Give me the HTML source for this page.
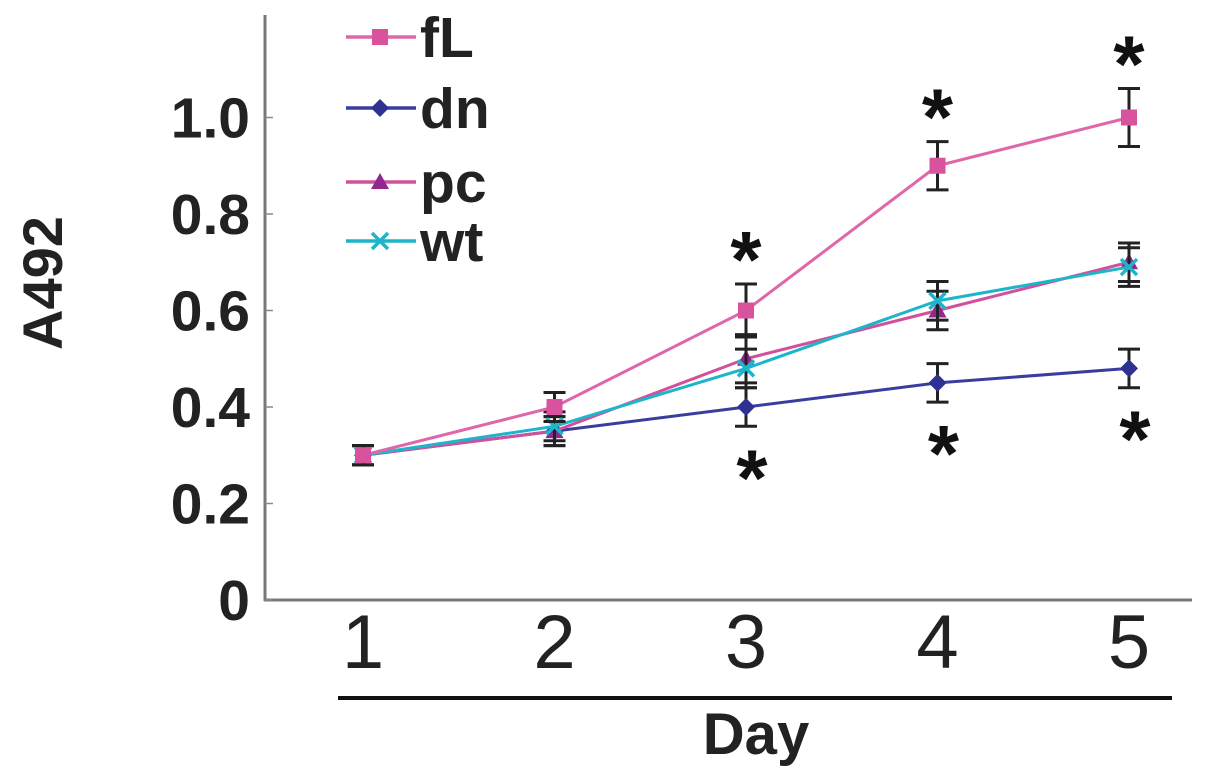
<!DOCTYPE html>
<html><head><meta charset="utf-8"><style>
html,body{margin:0;padding:0;background:#fff;}
svg{display:block;font-family:"Liberation Sans",Arial,sans-serif;}
</style></head><body>
<svg id="chart" width="1205" height="777" viewBox="0 0 1205 777">
<g id="axes"></g><g id="series"></g><g id="legend"></g>
</svg>
<script>
const days = [1, 2, 3, 4, 5];
const yTicks = [0, 0.2, 0.4, 0.6, 0.8, 1.0];
const yTickLabels = ["0", "0.2", "0.4", "0.6", "0.8", "1.0"];
const fL = [0.30, 0.40, 0.60, 0.90, 1.00];
const fLErr = [0.02, 0.03, 0.055, 0.05, 0.06];
const dn = [0.30, 0.35, 0.40, 0.45, 0.48];
const dnErr = [0.02, 0.03, 0.04, 0.04, 0.04];
const pc = [0.30, 0.35, 0.50, 0.60, 0.70];
const pcErr = [0.02, 0.03, 0.05, 0.04, 0.04];
const wt = [0.30, 0.36, 0.48, 0.62, 0.69];
const wtErr = [0.02, 0.03, 0.04, 0.04, 0.04];
const starsAbove = [null, null, 3, 4, 5];
const starsBelow = [null, null, 3, 4, 5];

const NS = "http://www.w3.org/2000/svg";
const x = d => 363 + (d - 1) * 191.5;
const y = v => 600 - 482.5 * v;
function mk(tag, attrs, parent, text) {
  const e = document.createElementNS(NS, tag);
  for (const k in attrs) e.setAttribute(k, attrs[k]);
  if (text !== undefined) e.textContent = text;
  parent.appendChild(e); return e;
}
const axes = document.getElementById('axes');
const ser = document.getElementById('series');
const leg = document.getElementById('legend');

let el = mk('line', {x1:265,y1:15,x2:265,y2:601,stroke:'#777','stroke-width':3}, axes);


el = mk('line', {x1:264,y1:600,x2:1192,y2:600,stroke:'#777','stroke-width':3}, axes);


yTicks.forEach((t, i) => {
  const tk = mk('line', {x1:265,y1:y(t),x2:273,y2:y(t),stroke:'#888','stroke-width':1.5}, axes);
  
  
  const tl = mk('text', {x:250,y:y(t)+20,'text-anchor':'end','font-size':57,'font-weight':'bold',fill:'#222'}, axes, yTickLabels[i]);
  
  
});
days.forEach(d => {
  const tl = mk('text', {x:x(d),y:668,'text-anchor':'middle','font-size':76,fill:'#222'}, axes, String(d));
  
  
});
el = mk('line', {x1:338,y1:698,x2:1172,y2:698,stroke:'#111','stroke-width':4}, axes);


el = mk('text', {x:756,y:754,'text-anchor':'middle','font-size':58,'font-weight':'bold',fill:'#222'}, axes, 'Day');


el = mk('text', {x:0,y:0,transform:'translate(62,283) rotate(-90)','text-anchor':'middle','font-size':56,'font-weight':'bold',fill:'#222'}, axes, 'A492');



function marker(type, cx, cy, color, g) {
  let m;
  if (type === 'square') m = mk('rect', {x:cx-8,y:cy-8,width:16,height:16,fill:color}, g);
  else if (type === 'diamond') m = mk('polygon', {points:`${cx},${cy-9} ${cx+9},${cy} ${cx},${cy+9} ${cx-9},${cy}`,fill:color}, g);
  else if (type === 'triangle') m = mk('polygon', {points:`${cx},${cy-9} ${cx+9},${cy+7} ${cx-9},${cy+7}`,fill:color}, g);
  else m = mk('path', {d:`M${cx-8},${cy-8}L${cx+8},${cy+8}M${cx+8},${cy-8}L${cx-8},${cy+8}`,stroke:color,'stroke-width':3.5,fill:'none'}, g);
  return m;
}
const seriesDefs = [
  {name:'dn', vals:dn, err:dnErr, color:'#2e3192', lineColor:'#3a3da0', mark:'diamond'},
  {name:'pc', vals:pc, err:pcErr, color:'#92278f', lineColor:'#d2509a', mark:'triangle'},
  {name:'wt', vals:wt, err:wtErr, color:'#1cb5cc', lineColor:'#1cb5cc', mark:'x'},
  {name:'fL', vals:fL, err:fLErr, color:'#d9529e', lineColor:'#e066a8', mark:'square'}
];
seriesDefs.forEach(s => {
  const g = mk('g', {}, ser);
  
  
  s.vals.forEach((v, i) => {
    const cx = x(days[i]), e = s.err[i];
    const eb = mk('path', {d:`M${cx},${y(v+e)}V${y(v-e)}M${cx-11},${y(v+e)}H${cx+11}M${cx-11},${y(v-e)}H${cx+11}`,stroke:'#222','stroke-width':3,fill:'none'}, g);
    
    
  });
  const ln = mk('polyline', {points:s.vals.map((v,i)=>`${x(days[i])},${y(v)}`).join(' '),fill:'none',stroke:s.lineColor,'stroke-width':3}, g);
  
  
  s.vals.forEach((v, i) => {
    const m = marker(s.mark, x(days[i]), y(v), s.color, g);
    
    
  });
});
starsAbove.forEach((d, i) => {
  if (d === null) return;
  const top = fL[i] + fLErr[i];
  const st = mk('text', {x:x(d),y:y(top)+3,'text-anchor':'middle','font-size':80,'font-weight':'bold',fill:'#111'}, ser, '*');
  
  
});
starsBelow.forEach((d, i) => {
  if (d === null) return;
  const bot = dn[i] - dnErr[i];
  const st = mk('text', {x:x(d)+6,y:y(bot)+79,'text-anchor':'middle','font-size':80,'font-weight':'bold',fill:'#111'}, ser, '*');
  
  
});
const legItems = [
  {label:'fL', y:37, color:'#d9529e', line:'#e066a8', mark:'square'},
  {label:'dn', y:108, color:'#2e3192', line:'#3a3da0', mark:'diamond'},
  {label:'pc', y:182, color:'#92278f', line:'#d2509a', mark:'triangle'},
  {label:'wt', y:241, color:'#1cb5cc', line:'#1cb5cc', mark:'x'}
];
legItems.forEach(it => {
  const g = mk('g', {}, leg);
  
  
  mk('line', {x1:346,y1:it.y,x2:416,y2:it.y,stroke:it.line,'stroke-width':3.5}, g);
  marker(it.mark, 380, it.y, it.color, g);
  mk('text', {x:420,y:it.y+20,'font-size':57,'font-weight':'bold',fill:'#222'}, g, it.label);
});
</script>
</body></html>
